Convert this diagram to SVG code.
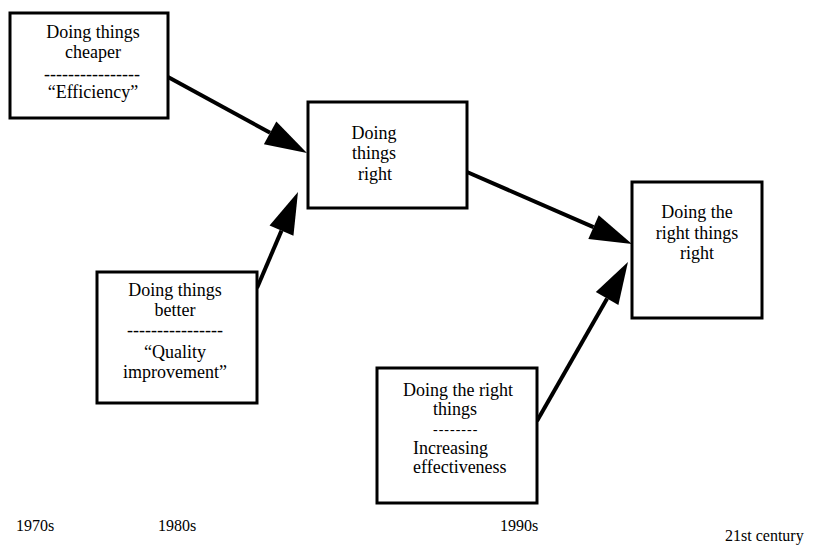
<svg xmlns="http://www.w3.org/2000/svg" width="815" height="546" viewBox="0 0 815 546">
<defs>
<marker id="ah" markerUnits="userSpaceOnUse" markerWidth="42" markerHeight="26" refX="0" refY="13" orient="auto" overflow="visible">
<path d="M0,0 L42,13 L0,26 Z" fill="#000"/>
</marker>
<style>
.box{fill:#fff;stroke:#000;stroke-width:3}
.t{font-family:"Liberation Serif","Times New Roman",serif;font-size:18px;fill:#000}
.c{text-anchor:middle}
.d{font-size:14px;letter-spacing:1px}
.yr{font-family:"Liberation Serif","Times New Roman",serif;font-size:16px;fill:#000}
.con{stroke:#000;stroke-width:4;fill:none;marker-end:url(#ah)}
</style>
</defs>
<rect width="815" height="546" fill="#fff"/>
<g id="connectors">
<line class="con" x1="168" y1="77" x2="270.1" y2="132.8"/>
<line class="con" x1="257" y1="288" x2="281.5" y2="230.6"/>
<line class="con" x1="467" y1="172" x2="593.5" y2="227.2"/>
<line class="con" x1="537" y1="421" x2="607.1" y2="298.5"/>
</g>
<g id="cheaper">
<rect class="box" x="10" y="13" width="158" height="105"/>
<text class="t c" x="93" y="38">Doing things</text>
<text class="t c" x="93" y="58">cheaper</text>
<text class="t c" x="92" y="80">----------------</text>
<text class="t c" x="93" y="98">“Efficiency”</text>
</g>
<g id="better">
<rect class="box" x="97" y="272" width="160" height="131"/>
<text class="t c" x="175" y="296">Doing things</text>
<text class="t c" x="175" y="316">better</text>
<text class="t c" x="175" y="336">----------------</text>
<text class="t c" x="175" y="358">“Quality</text>
<text class="t c" x="175" y="378">improvement”</text>
</g>
<g id="right">
<rect class="box" x="308" y="102" width="159" height="106"/>
<text class="t c" x="374" y="139">Doing</text>
<text class="t c" x="374" y="159">things</text>
<text class="t c" x="375" y="180">right</text>
</g>
<g id="rightthingsright">
<rect class="box" x="632" y="182" width="130" height="136"/>
<text class="t c" x="697" y="218">Doing the</text>
<text class="t c" x="697" y="239">right things</text>
<text class="t c" x="697" y="259">right</text>
</g>
<g id="rightthings">
<rect class="box" x="377" y="368" width="160" height="135"/>
<text class="t" x="403" y="396">Doing the right</text>
<text class="t" x="433" y="415">things</text>
<text class="t d" x="433" y="434">--------</text>
<text class="t" x="413" y="454">Increasing</text>
<text class="t" x="413" y="473">effectiveness</text>
</g>
<g id="timeline">
<text class="yr" x="16" y="531">1970s</text>
<text class="yr" x="158" y="531">1980s</text>
<text class="yr" x="500" y="531">1990s</text>
<text class="yr" x="725" y="541">21st century</text>
</g>
</svg>
